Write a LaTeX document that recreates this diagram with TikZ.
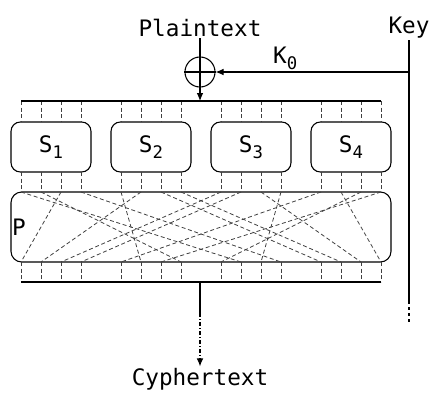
\documentclass[tikz,border=0pt]{standalone}
\usepackage{fontspec}
\setmonofont{DejaVu Sans Mono}
\usetikzlibrary{arrows.meta, positioning}
\tikzstyle{txt} = [font=\ttfamily\fontsize{17}{20}\selectfont, inner sep=1pt]
\tikzstyle{sbox} = [draw, line width=0.8pt, rounded corners=7pt, minimum width=60pt, minimum height=37.5pt, inner sep=0pt, txt]
\tikzstyle{pbox} = [draw, line width=0.8pt, rounded corners=8pt, minimum width=285pt, minimum height=52.5pt, inner sep=0pt]
\tikzstyle{xorc} = [draw, circle, line width=0.8pt, minimum size=22.5pt, inner sep=0pt]
\tikzstyle{wire} = [black!75, line width=0.6pt, dash pattern=on 3pt off 2pt]
\tikzstyle{fade} = [line width=0.8pt, dash pattern=on 2.5pt off 2pt]
\tikzstyle{line} = [draw, line width=0.8pt, -{Latex[length=6pt,width=5pt]}]
\newcommand{\lowidx}[1]{\raisebox{-0.28em}{\fontsize{13}{13}\selectfont #1}}

\begin{document}
\begin{tikzpicture}[x=0.75pt, y=-0.75pt]
\useasboundingbox (0,0) rectangle (442,404);

\node [txt] (plain) at (200,28) {Plaintext};
\node [txt] (key) at (409,28) {Key};
\node [xorc] (xor) at (200,72) {};
\node [txt] (cipher) at (200,379) {Cyphertext};

\foreach \k in {1,...,4}{
  \node [sbox] (S\k) at (100*\k-49,147) {S\lowidx{\k}};
}
\node [pbox] (P) at (201,227) {};
\node [txt, anchor=west] (plab) at (P.west) {P};

% bit positions
\foreach \i in {0,...,15}{
  \pgfmathtruncatemacro\bx{21+20*\i+20*floor(\i/4)}
  \coordinate (in\i) at (\bx,101);
  \coordinate (st\i) at (\bx,122);
  \coordinate (sb\i) at (\bx,172);
  \coordinate (pt\i) at (\bx,192);
  \coordinate (pb\i) at (\bx,262);
  \coordinate (out\i) at (\bx,282);
  \draw [wire] (in\i) -- (st\i) (sb\i) -- (pt\i) (pb\i) -- (out\i);
}
\draw [line width=0.8pt] (in0) -- (in15);
\draw [line width=0.8pt] (out0) -- (out15);

% permutation
\foreach \i/\j in {0/9, 1/7, 2/0, 3/11, 4/5, 5/1, 6/12, 7/13,
                   8/2, 9/3, 10/14, 11/10, 12/4, 13/15, 14/8, 15/6}{
  \draw [wire] (pt\i) -- (pb\j);
}

% plaintext and key
\draw [line width=0.8pt] (plain) -- (xor.north) -- (xor.south);
\draw [line width=0.8pt] (xor.west) -- (xor.east);
\draw [line] (xor.south) -- (xor.south |- in0);
\coordinate (kk) at (key.south |- xor);
\coordinate (kend) at (409,301);
\coordinate (kfade) at (409,323);
\draw [line width=0.8pt] (key) -- (kend);
\draw [fade] (kend) -- (kfade);
\draw [line] (kk) -- node [txt, above, pos=0.64] (k0) {K\lowidx{0}} (xor.east);

% cyphertext
\coordinate (cx) at (200,282);
\coordinate (cmid) at (200,313);
\draw [line width=0.8pt] (cx) -- (cmid);
\draw [line, dash pattern=on 3pt off 1.5pt on 0.8pt off 1.5pt] (cmid) -- (cipher.north);
\end{tikzpicture}
\end{document}
